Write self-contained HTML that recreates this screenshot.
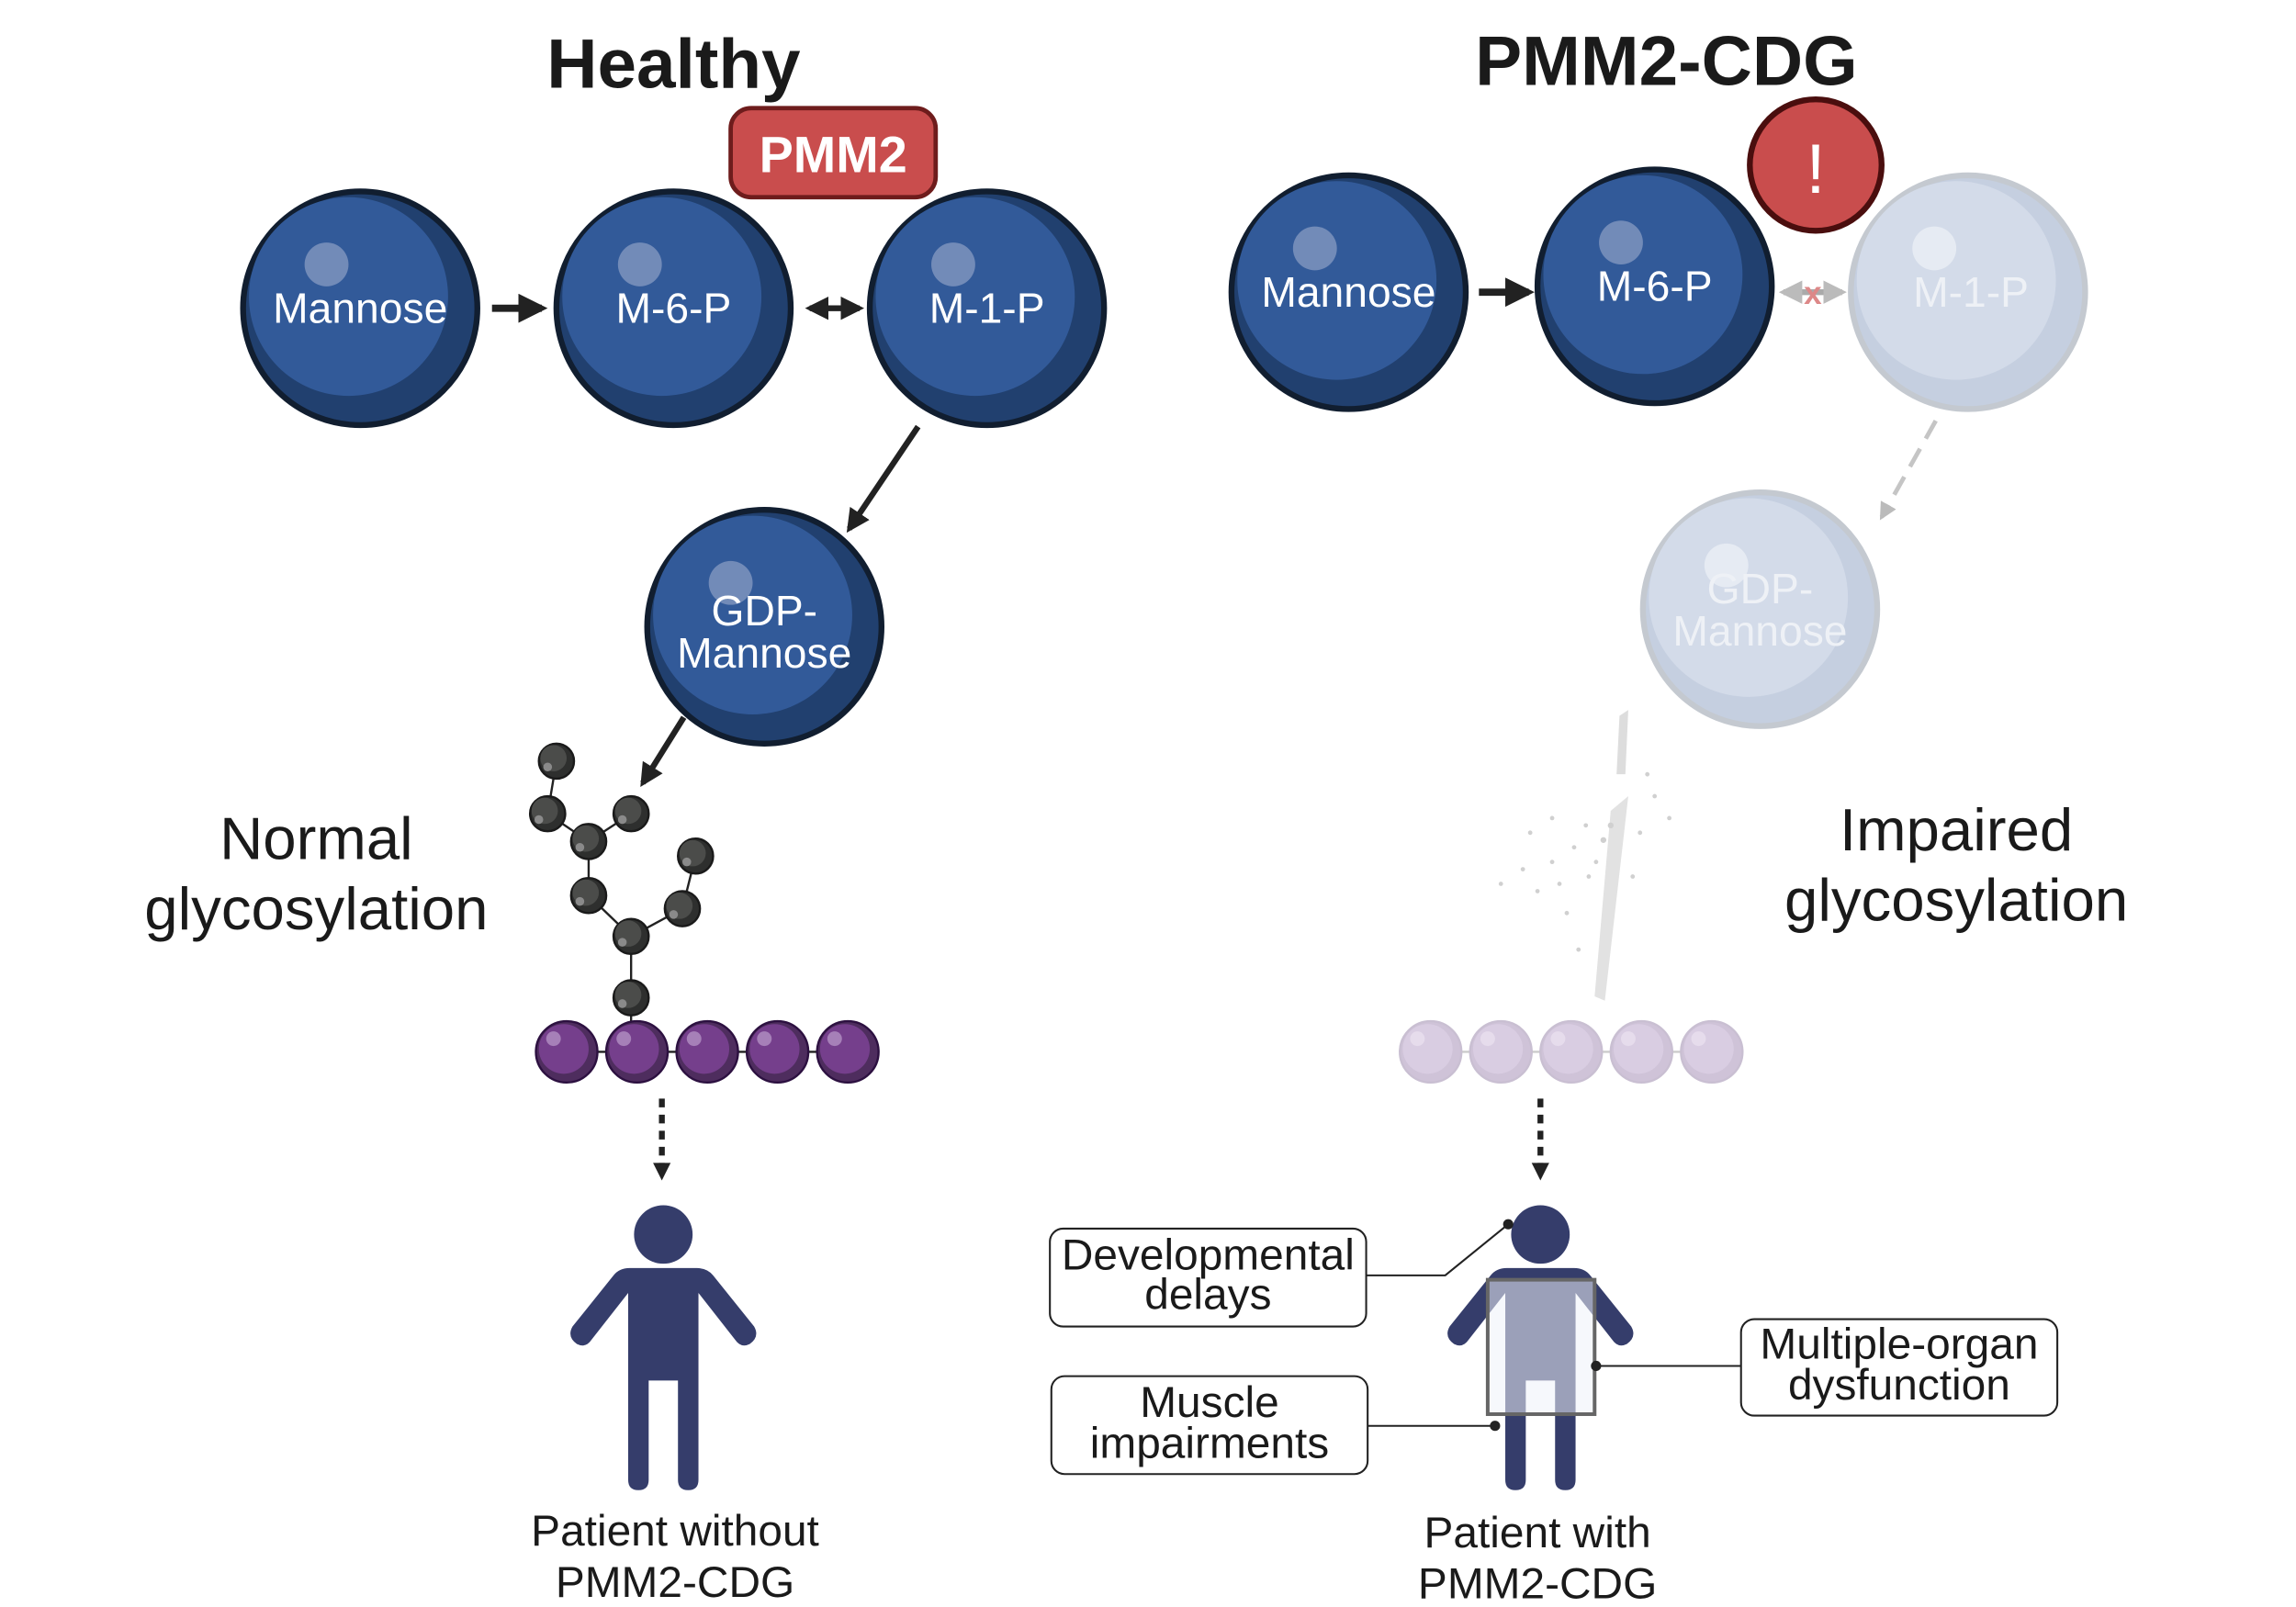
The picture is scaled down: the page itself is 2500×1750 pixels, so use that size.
<!DOCTYPE html>
<html><head><meta charset="utf-8"><style>
html,body{margin:0;padding:0;background:#fff}
svg{display:block}
text{font-family:"Liberation Sans",Arial,sans-serif}
</style></head><body>
<svg width="2500" height="1750" viewBox="0 0 1568 1100" preserveAspectRatio="none" xmlns="http://www.w3.org/2000/svg">
<defs>
<marker id="ah" viewBox="0 0 10 10" refX="8" refY="5" markerWidth="4" markerHeight="4" orient="auto-start-reverse"><path d="M0,0 L10,5 L0,10 z" fill="#222"/></marker>
<marker id="ahg" viewBox="0 0 10 10" refX="8" refY="5" markerWidth="4" markerHeight="4" orient="auto-start-reverse"><path d="M0,0 L10,5 L0,10 z" fill="#bbb"/></marker>
<g id="ball">
<circle r="80" fill="#21406f" stroke="#111e30" stroke-width="4"/>
<circle cx="-8" cy="-8" r="68" fill="#325a99"/>
<circle cx="-23" cy="-30" r="15" fill="#728bb8"/>
</g>
<g id="fball">
<circle r="80" fill="#c5cfe0" stroke="#c4c9d0" stroke-width="4"/>
<circle cx="-8" cy="-8" r="68" fill="#d3dbe9"/>
<circle cx="-23" cy="-30" r="15" fill="#e6ebf3"/>
</g>
<g id="gly"><circle r="12" fill="#2e2f2e" stroke="#1a1a1a" stroke-width="1.5"/><circle cx="-2" cy="-2" r="9" fill="#4b4c4a"/><circle cx="-6" cy="4" r="3" fill="#8a8a8a"/></g>
<g id="pb"><circle r="21" fill="#4e2d5e" stroke="#2c1040" stroke-width="1.5"/><circle cx="-2" cy="-2" r="17" fill="#753f8c"/><circle cx="-9" cy="-9" r="5" fill="#a680b8"/></g>
<g id="fpb"><circle r="21" fill="#cfc3d8" stroke="#c9bfd2" stroke-width="1.5"/><circle cx="-2" cy="-2" r="17" fill="#d9cde2"/><circle cx="-9" cy="-9" r="5" fill="#e6dcec"/></g>
<g id="person" fill="#353d6b">
<circle cx="0" cy="0" r="20"/>
<path d="M-23,23 L23,23 Q30,23 34,28 L62,63 Q66,70 59,75 Q53,78 49,72 L24,40 L24,168 Q24,175 17,175 Q10,175 10,168 L10,100 L-10,100 L-10,168 Q-10,175 -17,175 Q-24,175 -24,168 L-24,40 L-49,72 Q-53,78 -59,75 Q-66,70 -62,63 L-34,28 Q-30,23 -23,23 z"/>
</g>
</defs>

<text x="460" y="60" font-size="48" font-weight="bold" text-anchor="middle" fill="#1a1a1a">Healthy</text>
<text x="1138" y="58" font-size="48" font-weight="bold" text-anchor="middle" fill="#1a1a1a">PMM2-CDG</text>

<rect x="499" y="74" width="140" height="61" rx="14" fill="#c94d4d" stroke="#6e1c1c" stroke-width="3"/>
<text x="569" y="118" font-size="35" font-weight="bold" text-anchor="middle" fill="#fff">PMM2</text>

<use href="#ball" x="246" y="211"/>
<use href="#ball" x="460" y="211"/>
<use href="#ball" x="674" y="211"/>
<text x="246" y="221" font-size="29" text-anchor="middle" fill="#fff">Mannose</text>
<text x="460" y="221" font-size="29" text-anchor="middle" fill="#fff">M-6-P</text>
<text x="674" y="221" font-size="29" text-anchor="middle" fill="#fff">M-1-P</text>
<line x1="336" y1="211" x2="370" y2="211" stroke="#222" stroke-width="5" marker-end="url(#ah)"/>
<line x1="553" y1="211" x2="587" y2="211" stroke="#222" stroke-width="4" marker-end="url(#ah)" marker-start="url(#ah)"/>
<line x1="627" y1="292" x2="580" y2="362" stroke="#222" stroke-width="4" marker-end="url(#ah)"/>
<use href="#ball" x="522" y="429"/>
<text x="522" y="428" font-size="29" text-anchor="middle" fill="#fff">GDP-</text>
<text x="522" y="457" font-size="29" text-anchor="middle" fill="#fff">Mannose</text>
<line x1="467" y1="491" x2="439" y2="536" stroke="#222" stroke-width="4" marker-end="url(#ah)"/>

<g stroke="#222" stroke-width="1.5">
<line x1="380" y1="521" x2="374" y2="557"/><line x1="374" y1="557" x2="402" y2="576"/><line x1="431" y1="557" x2="402" y2="576"/>
<line x1="402" y1="576" x2="402" y2="613"/><line x1="402" y1="613" x2="431" y2="641"/><line x1="475" y1="586" x2="466" y2="622"/>
<line x1="466" y1="622" x2="431" y2="641"/><line x1="431" y1="641" x2="431" y2="700"/>
<line x1="387" y1="720" x2="579" y2="720"/>
</g>
<use href="#gly" x="380" y="521"/><use href="#gly" x="374" y="557"/><use href="#gly" x="431" y="557"/>
<use href="#gly" x="402" y="576"/><use href="#gly" x="402" y="613"/><use href="#gly" x="475" y="586"/>
<use href="#gly" x="466" y="622"/><use href="#gly" x="431" y="641"/><use href="#gly" x="431" y="683"/>
<use href="#pb" x="387" y="720"/><use href="#pb" x="435" y="720"/><use href="#pb" x="483" y="720"/><use href="#pb" x="531" y="720"/><use href="#pb" x="579" y="720"/>

<text x="216" y="588" font-size="41" text-anchor="middle" fill="#1a1a1a">Normal</text>
<text x="216" y="636" font-size="41" text-anchor="middle" fill="#1a1a1a">glycosylation</text>

<line x1="452" y1="752" x2="452" y2="800" stroke="#222" stroke-width="4" stroke-dasharray="6,5"/>
<path d="M446,796 L458,796 L452,808 z" fill="#222"/>
<use href="#person" x="453" y="845"/>
<text x="461" y="1058" font-size="30" text-anchor="middle" fill="#1a1a1a">Patient without</text>
<text x="461" y="1093" font-size="30" text-anchor="middle" fill="#1a1a1a">PMM2-CDG</text>

<use href="#ball" x="921" y="200"/>
<use href="#ball" x="1130" y="196"/>
<use href="#fball" x="1344" y="200"/>
<text x="921" y="210" font-size="29" text-anchor="middle" fill="#fff">Mannose</text>
<text x="1130" y="206" font-size="29" text-anchor="middle" fill="#fff">M-6-P</text>
<text x="1346" y="210" font-size="29" text-anchor="middle" fill="#eef1f6">M-1-P</text>
<line x1="1010" y1="200" x2="1044" y2="200" stroke="#222" stroke-width="5" marker-end="url(#ah)"/>
<line x1="1218" y1="200" x2="1258" y2="200" stroke="#aaa" stroke-width="4" marker-end="url(#ahg)" marker-start="url(#ahg)"/>
<text x="1238" y="208" font-size="22" font-weight="bold" text-anchor="middle" fill="#d88">x</text>
<circle cx="1240" cy="113" r="45" fill="#c94d4d" stroke="#4a0e0e" stroke-width="4"/>
<text x="1240" y="132" font-size="48" text-anchor="middle" fill="#fff">!</text>
<line x1="1322" y1="288" x2="1285" y2="354" stroke="#c5c5c5" stroke-width="3" stroke-dasharray="14,8" marker-end="url(#ahg)"/>
<use href="#fball" x="1202" y="417"/>
<text x="1202" y="413" font-size="29" text-anchor="middle" fill="#eef1f6">GDP-</text>
<text x="1202" y="442" font-size="29" text-anchor="middle" fill="#eef1f6">Mannose</text>

<path d="M1106,490 L1112,486 L1110,530 L1104,530 z" fill="#ddd"/>
<path d="M1100,555 L1112,545 L1096,685 L1089,682 z" fill="#e2e2e2"/>
<g fill="#d0d0d0">
<circle cx="1060" cy="560" r="1.5"/><circle cx="1075" cy="580" r="1.5"/><circle cx="1085" cy="600" r="1.5"/><circle cx="1050" cy="610" r="1.5"/>
<circle cx="1120" cy="570" r="1.5"/><circle cx="1130" cy="545" r="1.5"/><circle cx="1040" cy="595" r="1.5"/><circle cx="1070" cy="625" r="1.5"/>
<circle cx="1095" cy="575" r="2"/><circle cx="1115" cy="600" r="1.5"/><circle cx="1025" cy="605" r="1.5"/><circle cx="1078" cy="650" r="1.5"/>
<circle cx="1140" cy="560" r="1.5"/><circle cx="1060" cy="590" r="1.5"/><circle cx="1100" cy="565" r="2"/><circle cx="1090" cy="590" r="1.5"/>
<circle cx="1045" cy="570" r="1.5"/><circle cx="1125" cy="530" r="1.5"/><circle cx="1065" cy="605" r="1.5"/><circle cx="1083" cy="565" r="1.5"/>
</g>
<line x1="977" y1="720" x2="1169" y2="720" stroke="#ccc" stroke-width="1.5"/>
<use href="#fpb" x="977" y="720"/><use href="#fpb" x="1025" y="720"/><use href="#fpb" x="1073" y="720"/><use href="#fpb" x="1121" y="720"/><use href="#fpb" x="1169" y="720"/>

<text x="1336" y="582" font-size="41" text-anchor="middle" fill="#1a1a1a">Impaired</text>
<text x="1336" y="630" font-size="41" text-anchor="middle" fill="#1a1a1a">glycosylation</text>

<line x1="1052" y1="752" x2="1052" y2="800" stroke="#222" stroke-width="4" stroke-dasharray="6,5"/>
<path d="M1046,796 L1058,796 L1052,808 z" fill="#222"/>
<use href="#person" x="1052" y="845"/>
<rect x="1016" y="876" width="73" height="92" fill="#eef2fa" fill-opacity="0.55" stroke="#666" stroke-width="2.5"/>

<g fill="none" stroke="#222" stroke-width="1.3">
<rect x="717" y="841" width="216" height="67" rx="9" fill="#fff"/>
<rect x="718" y="942" width="216" height="67" rx="9" fill="#fff"/>
<rect x="1189" y="903" width="216" height="66" rx="9" fill="#fff"/>
<polyline points="933,873 987,873 1030,838"/>
<line x1="934" y1="976" x2="1021" y2="976"/>
<line x1="1090" y1="935" x2="1189" y2="935"/>
</g>
<circle cx="1030" cy="838" r="3.5" fill="#222"/>
<circle cx="1021" cy="976" r="3.5" fill="#222"/>
<circle cx="1090" cy="935" r="3.5" fill="#222"/>
<text x="825" y="869" font-size="30" text-anchor="middle" fill="#1a1a1a">Developmental</text>
<text x="825" y="896" font-size="30" text-anchor="middle" fill="#1a1a1a">delays</text>
<text x="826" y="970" font-size="30" text-anchor="middle" fill="#1a1a1a">Muscle</text>
<text x="826" y="998" font-size="30" text-anchor="middle" fill="#1a1a1a">impairments</text>
<text x="1297" y="930" font-size="30" text-anchor="middle" fill="#1a1a1a">Multiple-organ</text>
<text x="1297" y="958" font-size="30" text-anchor="middle" fill="#1a1a1a">dysfunction</text>

<text x="1050" y="1059" font-size="30" text-anchor="middle" fill="#1a1a1a">Patient with</text>
<text x="1050" y="1094" font-size="30" text-anchor="middle" fill="#1a1a1a">PMM2-CDG</text>
</svg>
</body></html>
